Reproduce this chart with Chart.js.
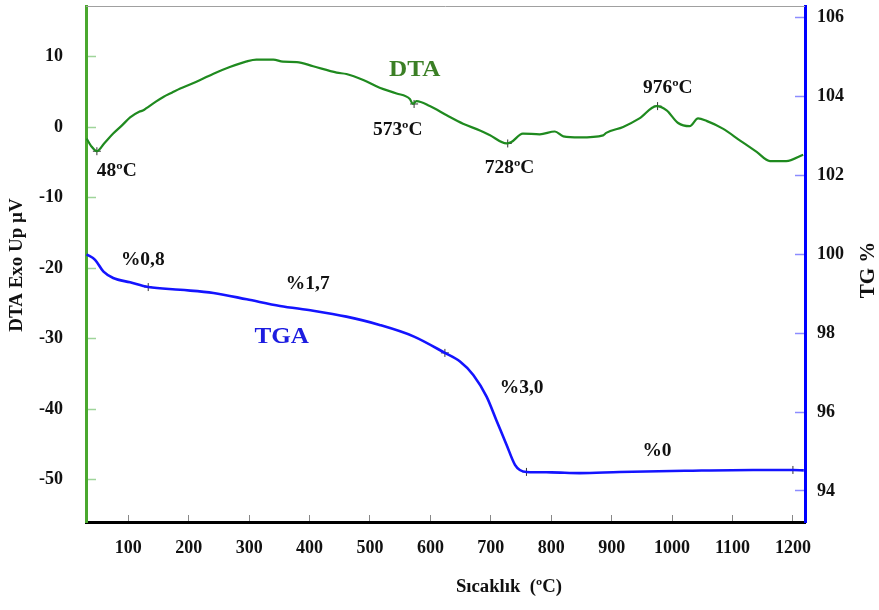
<!DOCTYPE html>
<html>
<head>
<meta charset="utf-8">
<script src="https://cdn.jsdelivr.net/npm/chart.js@4.4.1/dist/chart.umd.min.js"></script>
<style>
  html, body { margin: 0; padding: 0; background: #fff; }
  #wrap { width: 879px; height: 610px; position: relative; }
</style>
</head>
<body>
<div id="wrap"><canvas id="graphCanvas"></canvas></div>
<script>
// DTA curve (temperature in °C, signal in µV)
const dtaTemp = [31, 38, 48, 60, 75, 90, 103, 118, 125, 130, 145, 158, 172, 186, 203, 219, 241, 268, 296, 312,
  340, 356, 379, 406, 445, 461, 489, 516, 544, 566, 571, 577, 599, 627, 654, 682, 698, 726, 734, 753,
  781, 806, 820, 847, 886, 891, 919, 946, 974, 991, 1010, 1029, 1043, 1057, 1084, 1112, 1140, 1162, 1189, 1217];
const dtaSignal = [-1.6, -2.6, -3.4, -2.3, -0.9, 0.3, 1.4, 2.2, 2.4, 2.7, 3.6, 4.3, 4.9, 5.5, 6.1, 6.7, 7.6, 8.55, 9.35, 9.6,
  9.6, 9.3, 9.25, 8.65, 7.75, 7.55, 6.7, 5.6, 4.8, 4.0, 3.3, 3.7, 3.0, 1.7, 0.5, -0.45, -1.1, -2.3, -2.1, -0.9,
  -1.0, -0.6, -1.3, -1.45, -1.15, -0.8, 0.05, 1.25, 3.0, 2.4, 0.6, 0.15, 1.25, 0.9, -0.2, -1.85, -3.5, -4.8, -4.8, -3.9];

// TGA curve (temperature in °C, mass in %)
const tgaTemp = [31, 45, 59, 75, 103, 133, 186, 241, 296, 351, 406, 461, 516, 572, 624, 649, 671, 693, 709, 726,
  740, 748, 759, 800, 847, 913, 1024, 1134, 1200, 1218];
const tgaMass = [100.0, 99.86, 99.56, 99.4, 99.29, 99.17, 99.1, 99.02, 98.86, 98.69, 98.57, 98.42, 98.21, 97.92, 97.5, 97.28, 96.94, 96.39, 95.8, 95.17,
  94.66, 94.53, 94.48, 94.47, 94.45, 94.48, 94.51, 94.53, 94.53, 94.52];

// "+" marks on the curves
const dtaMarkTemp = [48, 573, 728, 976];
const dtaMarkSignal = [-3.4, 3.3, -2.3, 3.0];
const tgaMarkTemp = [133, 624, 759, 1200];
const tgaMarkMass = [99.17, 97.5, 94.48, 94.53];

// tick labels
const tempTicks = [100, 200, 300, 400, 500, 600, 700, 800, 900, 1000, 1100, 1200];
const dtaTicks = [-50, -40, -30, -20, -10, 0, 10];
const tgTicks = [94, 96, 98, 100, 102, 104, 106];

// text notes on the plot
const noteText = ['48ºC', '573ºC', '728ºC', '976ºC', '%0,8', '%1,7', '%3,0', '%0'];
const noteTemp = [81, 546, 731, 993, 124, 397, 751, 975];
const noteValue = [-6.2, -0.4, -5.8, 5.5, 99.84, 99.23, 96.61, 94.99];
const noteAxis = ['y', 'y', 'y', 'y', 'y2', 'y2', 'y2', 'y2'];

const serif = "'Liberation Serif', 'Times New Roman', serif";

function toPoints(xs, ys) {
    return xs.map((x, i) => ({ x: x, y: ys[i] }));
}

function drawText(ctx, text, x, y, font, color, stretch, angle) {
    ctx.save();
    ctx.translate(x, y);
    ctx.rotate(angle);
    ctx.scale(stretch, 1);
    ctx.font = font;
    ctx.fillStyle = color;
    ctx.textAlign = 'center';
    ctx.textBaseline = 'middle';
    ctx.fillText(text, 0, 0);
    ctx.restore();
}

// label padding would otherwise push the plot area down
function noPadding(scale) {
    scale.paddingTop = 0;
    scale.paddingBottom = 0;
    scale.paddingLeft = 0;
    scale.paddingRight = 0;
}

const textPlugin = {
    id: 'textPlugin',
    beforeDatasetsDraw(chart) {
        const { ctx, chartArea } = chart;
        // thin frame line on top of the plot
        ctx.save();
        ctx.strokeStyle = '#a0a0a0';
        ctx.lineWidth = 1;
        ctx.beginPath();
        ctx.moveTo(chartArea.left, chartArea.top + 0.5);
        ctx.lineTo(chartArea.right, chartArea.top + 0.5);
        ctx.stroke();
        ctx.restore();
    },
    afterDraw(chart) {
        const { ctx, chartArea, scales } = chart;
        const x = scales.x;

        noteText.forEach((t, i) => {
            const px = x.getPixelForValue(noteTemp[i]);
            const py = scales[noteAxis[i]].getPixelForValue(noteValue[i]);
            drawText(ctx, t, px, py, 'bold 18px ' + serif, '#111', 1.08, 0);
        });

        drawText(ctx, 'DTA', x.getPixelForValue(574), scales.y.getPixelForValue(8.2),
            'bold 24px ' + serif, '#3b7f25', 1.05, 0);
        drawText(ctx, 'TGA', x.getPixelForValue(354), scales.y2.getPixelForValue(97.91),
            'bold 24px ' + serif, '#1c1ce0', 1.05, 0);

        // axis titles
        drawText(ctx, 'Sıcaklık  (ºC)', x.getPixelForValue(730), chartArea.bottom + 65,
            'bold 18px ' + serif, '#111', 1.04, 0);
        drawText(ctx, 'DTA Exo Up µV', 17, (chartArea.top + chartArea.bottom) / 2 + 1,
            'bold 19px ' + serif, '#111', 1.0, -Math.PI / 2);
        drawText(ctx, 'TG %', chart.width - 10, (chartArea.top + chartArea.bottom) / 2 + 6,
            'bold 20px ' + serif, '#111', 1.05, -Math.PI / 2);
    }
};

const tickFont = { family: serif, size: 18, weight: 'bold' };

const ctx = document.getElementById('graphCanvas').getContext('2d');
const chart = new Chart(ctx, {
    type: 'line',
    data: {
        datasets: [
            {
                label: 'DTA',
                data: toPoints(dtaTemp, dtaSignal),
                yAxisID: 'y',
                borderColor: '#1f8a1f',
                borderWidth: 2.2,
                pointRadius: 0,
                cubicInterpolationMode: 'monotone',
                fill: false
            },
            {
                label: 'TGA',
                data: toPoints(tgaTemp, tgaMass),
                yAxisID: 'y2',
                borderColor: '#1414ff',
                borderWidth: 2.6,
                pointRadius: 0,
                cubicInterpolationMode: 'monotone',
                fill: false
            },
            {
                label: 'DTA marks',
                data: toPoints(dtaMarkTemp, dtaMarkSignal),
                yAxisID: 'y',
                showLine: false,
                pointStyle: 'cross',
                pointRadius: 4,
                borderColor: '#333',
                borderWidth: 1
            },
            {
                label: 'TGA marks',
                data: toPoints(tgaMarkTemp, tgaMarkMass),
                yAxisID: 'y2',
                showLine: false,
                pointStyle: 'cross',
                pointRadius: 4,
                borderColor: '#333',
                borderWidth: 1
            }
        ]
    },
    options: {
        responsive: true,
        maintainAspectRatio: false,
        animation: false,
        layout: { padding: { top: 6, left: 0, right: 0, bottom: 0 } },
        scales: {
            x: {
                type: 'linear',
                position: 'bottom',
                min: 30,
                max: 1220,
                afterBuildTicks: scale => { scale.ticks = tempTicks.map(v => ({ value: v })); },
                afterFit: scale => { scale.height = 88; noPadding(scale); },
                border: { color: '#000', width: 3 },
                grid: { drawOnChartArea: false, tickLength: -7, tickColor: '#888', tickWidth: 1 },
                ticks: { font: tickFont, color: '#111', padding: 23, maxRotation: 0, autoSkip: false,
                    callback: v => String(v) }
            },
            y: {
                type: 'linear',
                position: 'left',
                min: -56,
                max: 17.2,
                afterBuildTicks: scale => { scale.ticks = dtaTicks.map(v => ({ value: v })); },
                afterFit: scale => { scale.width = 86; noPadding(scale); },
                border: { color: '#4aa82e', width: 3 },
                grid: { drawOnChartArea: false, tickLength: -10, tickColor: '#9fd49a', tickWidth: 1.5 },
                ticks: { font: tickFont, color: '#111', padding: 33, callback: v => String(v) }
            },
            y2: {
                type: 'linear',
                position: 'right',
                min: 93.21,
                max: 106.3,
                afterBuildTicks: scale => { scale.ticks = tgTicks.map(v => ({ value: v })); },
                afterFit: scale => { scale.width = 74; noPadding(scale); },
                border: { color: '#0000ff', width: 3 },
                grid: { drawOnChartArea: false, tickLength: -10, tickColor: '#8c8cff', tickWidth: 1.5 },
                ticks: { font: tickFont, color: '#111', padding: 22, callback: v => String(v) }
            }
        },
        plugins: {
            legend: { display: false },
            tooltip: { enabled: false }
        }
    },
    plugins: [textPlugin]
});
</script>
</body>
</html>
